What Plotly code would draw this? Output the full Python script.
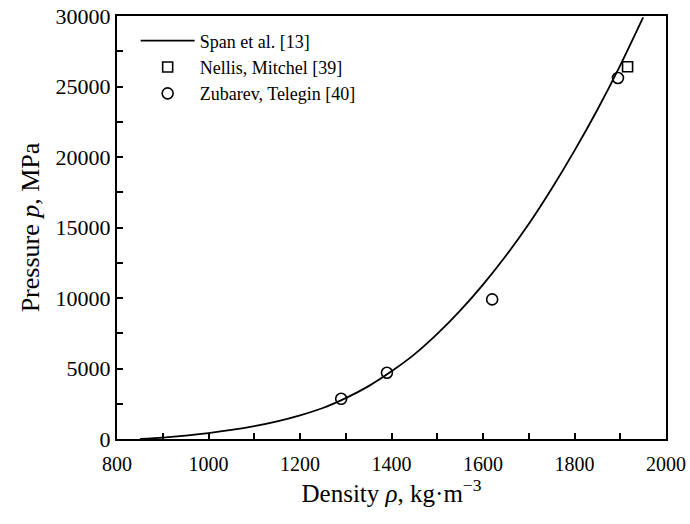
import plotly.graph_objects as go

# Span et al. [13] curve
span_rho = [850, 900, 950, 1000, 1050, 1100, 1150, 1200, 1250, 1300, 1350, 1400, 1450, 1500,
            1550, 1600, 1650, 1700, 1750, 1800, 1850, 1900, 1950]
span_p = [0, 100, 240, 420, 640, 910, 1250, 1680, 2200, 2900, 3750, 4800, 6000, 7450,
          9100, 10950, 13000, 15250, 17750, 20450, 23350, 26500, 29900]

# Nellis, Mitchel [39]
nellis_rho = [1916]
nellis_p = [26400]

# Zubarev, Telegin [40]
zub_rho = [1290, 1390, 1620, 1895]
zub_p = [2850, 4700, 9900, 25600]

x_ticks = [800, 1000, 1200, 1400, 1600, 1800, 2000]
y_ticks = [0, 5000, 10000, 15000, 20000, 25000, 30000]

font_family = "Liberation Serif, Times New Roman, serif"

fig = go.Figure()
fig.add_trace(go.Scatter(x=span_rho, y=span_p, mode="lines", name="Span et al. [13]",
                         line=dict(color="black", width=1.8, shape="spline", smoothing=0.8)))
fig.add_trace(go.Scatter(x=nellis_rho, y=nellis_p, mode="markers", name="Nellis, Mitchel [39]",
                         marker=dict(symbol="square-open", size=10, color="black", line=dict(width=1.6))))
fig.add_trace(go.Scatter(x=zub_rho, y=zub_p, mode="markers", name="Zubarev, Telegin [40]",
                         marker=dict(symbol="circle-open", size=11, color="black", line=dict(width=1.6))))

fig.update_layout(
    width=690, height=524,
    margin=dict(l=117, r=24, t=16, b=85),
    paper_bgcolor="white", plot_bgcolor="white",
    font=dict(family=font_family, color="black", size=20),
    showlegend=True,
    legend=dict(x=0.034, y=0.985, xanchor="left", yanchor="top",
                bgcolor="rgba(0,0,0,0)", font=dict(size=18, family=font_family),
                tracegroupgap=0, itemwidth=54),
    xaxis=dict(range=[800, 2000], tickvals=x_ticks, ticktext=[str(v) for v in x_ticks],
               ticks="inside", ticklen=6, tickwidth=1.5, tickcolor="black",
               minor=dict(dtick=100, ticks="inside", ticklen=6, tickwidth=1.5, tickcolor="black"),
               showline=True, linecolor="black", linewidth=2, mirror=True,
               showgrid=False, zeroline=False, automargin=False,
               tickfont=dict(size=20), ticklabelstandoff=6,
               title=dict(text="Density <i>ρ</i>, kg·m<sup>−3</sup>", font=dict(size=25), standoff=10)),
    yaxis=dict(range=[0, 30000], tickvals=y_ticks, ticktext=[str(v) for v in y_ticks],
               ticks="inside", ticklen=6, tickwidth=1.5, tickcolor="black",
               minor=dict(dtick=2500, ticks="inside", ticklen=6, tickwidth=1.5, tickcolor="black"),
               showline=True, linecolor="black", linewidth=2, mirror=True,
               showgrid=False, zeroline=False, automargin=False,
               tickfont=dict(size=22), ticklabelstandoff=0,
               title=dict(text="Pressure <i>p</i>, MPa", font=dict(size=26), standoff=8)),
)

fig.write_html("out.html")
